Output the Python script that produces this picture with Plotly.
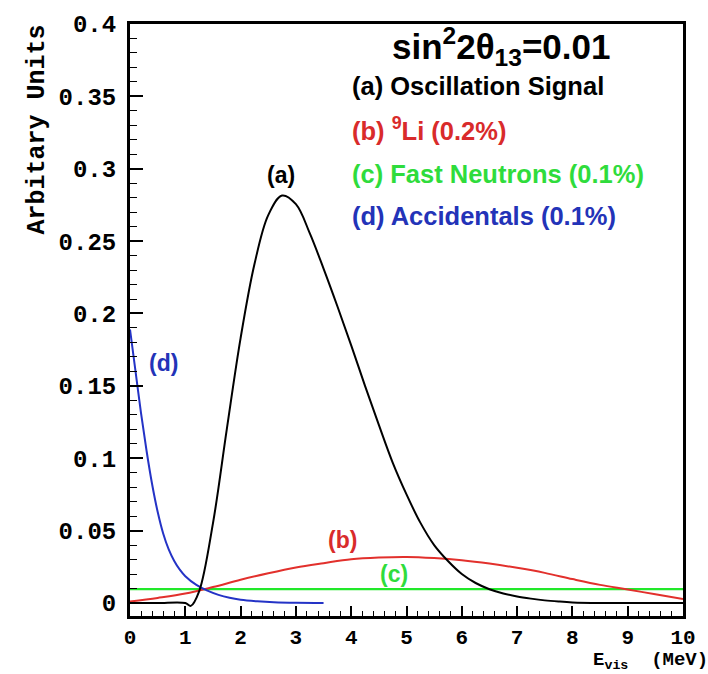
import plotly.graph_objects as go

# (a) Oscillation signal
xa = [0, 0.5, 1.0, 1.1, 1.25, 1.5, 1.75, 2.0, 2.25, 2.5, 2.75, 3.0, 3.25, 3.5, 3.75, 4.0, 4.25, 4.5, 4.75,
      5.0, 5.25, 5.5, 5.75, 6.0, 6.25, 6.5, 6.75, 7.0, 7.25, 7.5, 7.75, 8.0, 8.5, 9.0, 10.0]
ya = [0, 0, 0, -0.002, 0.008, 0.055, 0.120, 0.183, 0.234, 0.268, 0.2815, 0.2755, 0.2555, 0.231, 0.205,
      0.178, 0.150, 0.123, 0.097, 0.075, 0.0555, 0.040, 0.029, 0.020, 0.0138, 0.0095, 0.0066, 0.0045,
      0.003, 0.0018, 0.001, 0.0004, 0.0, 0.0, 0.0]

# (b) 9Li
xb = [0, 0.5, 1.0, 1.5, 2.0, 2.5, 3.0, 3.5, 4.0, 4.5, 5.0, 5.5, 6.0, 6.5, 7.0, 7.5, 8.0, 8.5, 9.0, 9.5, 10.0]
yb = [0.001, 0.0035, 0.0065, 0.011, 0.016, 0.0205, 0.0245, 0.0275, 0.0302, 0.0314, 0.0318, 0.031, 0.0295,
      0.0272, 0.0243, 0.0208, 0.0165, 0.0125, 0.0093, 0.006, 0.0028]

# (c) Fast neutrons
xc = [0, 10]
yc = [0.0095, 0.0095]

# (d) Accidentals
xd = [0, 0.1, 0.2, 0.3, 0.4, 0.5, 0.6, 0.7, 0.8, 0.9, 1.0, 1.2, 1.4, 1.6, 1.8, 2.0, 2.3, 2.6, 3.0, 3.5]
yd = [0.189, 0.160, 0.131, 0.105, 0.082, 0.063, 0.048, 0.037, 0.029, 0.023, 0.0185, 0.0125, 0.0085,
      0.0056, 0.0036, 0.0023, 0.0012, 0.0005, 0.0001, 0.0]

RED = "#e2302c"
GREEN = "#22e82a"
BLUE = "#2433c6"

fig = go.Figure()
fig.add_trace(go.Scatter(x=xc, y=yc, mode="lines", line=dict(color=GREEN, width=2.2)))
fig.add_trace(go.Scatter(x=xb, y=yb, mode="lines", line=dict(color=RED, width=2, shape="spline", smoothing=1)))
fig.add_trace(go.Scatter(x=xd, y=yd, mode="lines", line=dict(color=BLUE, width=2, shape="spline", smoothing=1)))
fig.add_trace(go.Scatter(x=xa, y=ya, mode="lines", line=dict(color="black", width=2, shape="spline", smoothing=1)))

mono = "Liberation Mono"
sans = "Liberation Sans"

fig.update_layout(
    width=708, height=674,
    margin=dict(l=130, r=16, t=19, b=58),
    paper_bgcolor="white", plot_bgcolor="white",
    showlegend=False,
    xaxis=dict(range=[0, 10], tick0=0, dtick=1, ticks="inside", ticklen=10, tickwidth=1.5, tickcolor="black",
               showline=True, linewidth=3, linecolor="black", mirror=True, showgrid=False, zeroline=False,
               ticklabelstandoff=0,
               tickfont=dict(family=mono, size=21, color="black", weight="bold"),
               minor=dict(ticks="inside", dtick=0.2, ticklen=5, tickwidth=1.2, tickcolor="black", showgrid=False)),
    yaxis=dict(range=[-0.009, 0.4], tick0=0, dtick=0.05, ticks="inside", ticklen=13, tickwidth=1.5, tickcolor="black",
               showline=True, linewidth=3, linecolor="black", mirror=True, showgrid=False, zeroline=False,
               ticklabelstandoff=6,
               tickfont=dict(family=mono, size=24, color="black", weight="bold"),
               minor=dict(ticks="inside", dtick=0.01, ticklen=7, tickwidth=1.2, tickcolor="black", showgrid=False)),
)

W = 562.0
H = 597.0
LEG = 25.5
anns = [
    dict(text="Arbitary Units", x=-(130 - 36) / W, y=1 + 1 / H, xanchor="center", yanchor="top", textangle=-90,
         font=dict(family=mono, size=25, color="black", weight="bold")),
    dict(text="E<sub>vis</sub>  (MeV)", x=1 + 27 / W, y=-(647 - 616) / H, xanchor="right", yanchor="top",
         font=dict(family=mono, size=19, color="black", weight="bold")),
    dict(text="sin<sup>2</sup>2θ<sub>13</sub>=0.01", x=(507 - 130) / W, y=(616 - 42) / H, xanchor="center",
         yanchor="middle", font=dict(family=sans, size=35, color="black", weight="bold")),
    dict(text="(a) Oscillation Signal", x=(354 - 130) / W, y=(616 - 82) / H, xanchor="left", yanchor="middle",
         font=dict(family=sans, size=LEG, color="black", weight="bold")),
    dict(text="(b) <sup>9</sup>Li (0.2%)", x=(354 - 130) / W, y=(616 - 125) / H, xanchor="left", yanchor="middle",
         font=dict(family=sans, size=LEG, color="#d92b2b", weight="bold")),
    dict(text="(c) Fast Neutrons (0.1%)", x=(354 - 130) / W, y=(616 - 170) / H, xanchor="left", yanchor="middle",
         font=dict(family=sans, size=LEG, color="#2fdc3c", weight="bold")),
    dict(text="(d) Accidentals (0.1%)", x=(354 - 130) / W, y=(616 - 213) / H, xanchor="left", yanchor="middle",
         font=dict(family=sans, size=LEG, color="#2333b8", weight="bold")),
    dict(text="(a)", x=(283 - 130) / W, y=(616 - 171) / H, xanchor="center", yanchor="middle",
         font=dict(family=sans, size=23, color="black", weight="bold")),
    dict(text="(b)", x=(346 - 130) / W, y=(616 - 539) / H, xanchor="center", yanchor="middle",
         font=dict(family=sans, size=23, color="#d92b2b", weight="bold")),
    dict(text="(c)", x=(398 - 130) / W, y=(616 - 574) / H, xanchor="center", yanchor="middle",
         font=dict(family=sans, size=23, color="#2fdc3c", weight="bold")),
    dict(text="(d)", x=(164 - 130) / W, y=(616 - 361) / H, xanchor="center", yanchor="middle",
         font=dict(family=sans, size=23, color="#2333b8", weight="bold")),
]
for a in anns:
    a.update(xref="paper", yref="paper", showarrow=False)
fig.update_layout(annotations=anns)

fig.write_html("out.html")
